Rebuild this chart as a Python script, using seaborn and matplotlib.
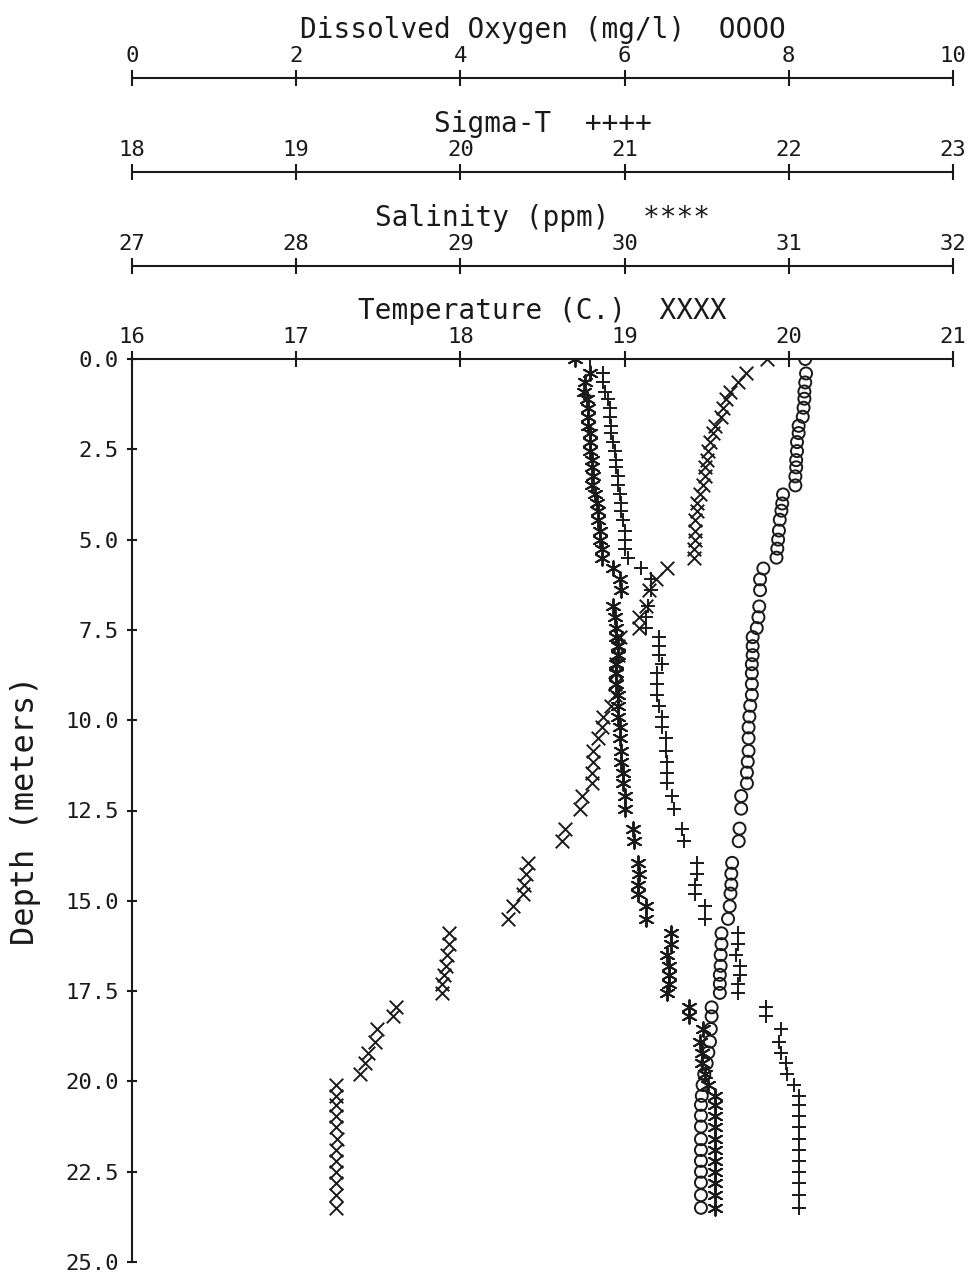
import matplotlib
matplotlib.use("Agg")
import matplotlib.pyplot as plt
import seaborn as sns
import pandas as pd

# ---------------- data ----------------
depth = [0.0, 0.4, 0.65, 0.9, 1.1, 1.35, 1.6, 1.85, 2.05, 2.3,
         2.55, 2.8, 3.0, 3.25, 3.5, 3.75, 4.0, 4.2, 4.45, 4.75,
         5.0, 5.25, 5.5, 5.8, 6.1, 6.4, 6.85, 7.15, 7.45, 7.7,
         7.95, 8.2, 8.45, 8.7, 9.0, 9.3, 9.6, 9.9, 10.2, 10.5,
         10.85, 11.15, 11.45, 11.75, 12.1, 12.45, 13.0, 13.35, 13.95, 14.25,
         14.55, 14.8, 15.15, 15.5, 15.9, 16.2, 16.5, 16.8, 17.05, 17.3,
         17.55, 17.95, 18.2, 18.55, 18.9, 19.2, 19.5, 19.8, 20.1, 20.4,
         20.65, 20.95, 21.25, 21.6, 21.9, 22.2, 22.5, 22.8, 23.15, 23.5]

temperature = [19.87, 19.74, 19.69, 19.64, 19.62, 19.60, 19.59, 19.55, 19.54, 19.52,
               19.51, 19.50, 19.49, 19.49, 19.48, 19.46, 19.44, 19.44, 19.43, 19.43,
               19.43, 19.42, 19.42, 19.26, 19.19, 19.15, 19.13, 19.09, 19.09, 18.97,
               18.96, 18.96, 18.95, 18.95, 18.94, 18.94, 18.92, 18.87, 18.86, 18.84,
               18.81, 18.81, 18.80, 18.80, 18.74, 18.73, 18.64, 18.62, 18.41, 18.40,
               18.39, 18.38, 18.32, 18.29, 17.93, 17.93, 17.92, 17.91, 17.90, 17.89,
               17.89, 17.61, 17.59, 17.49, 17.48, 17.44, 17.42, 17.39, 17.24, 17.24,
               17.24, 17.24, 17.24, 17.25, 17.24, 17.24, 17.24, 17.24, 17.24, 17.24]

salinity = [29.70, 29.79, 29.76, 29.75, 29.77, 29.78, 29.78, 29.78, 29.79, 29.79,
            29.79, 29.80, 29.80, 29.81, 29.80, 29.82, 29.83, 29.84, 29.84, 29.85,
            29.85, 29.86, 29.86, 29.93, 29.97, 29.98, 29.93, 29.94, 29.95, 29.95,
            29.96, 29.96, 29.95, 29.95, 29.95, 29.96, 29.96, 29.96, 29.97, 29.97,
            29.98, 29.98, 29.99, 29.99, 30.00, 30.00, 30.05, 30.06, 30.08, 30.09,
            30.08, 30.08, 30.13, 30.13, 30.28, 30.28, 30.26, 30.27, 30.27, 30.27,
            30.26, 30.39, 30.39, 30.48, 30.46, 30.47, 30.47, 30.49, 30.51, 30.55,
            30.55, 30.55, 30.55, 30.55, 30.55, 30.55, 30.55, 30.55, 30.55, 30.55]

sigma_t = [20.79, 20.87, 20.87, 20.88, 20.90, 20.91, 20.91, 20.92, 20.92, 20.93,
           20.94, 20.95, 20.95, 20.96, 20.96, 20.97, 20.98, 20.98, 20.99, 21.00,
           21.00, 21.00, 21.02, 21.10, 21.16, 21.16, 21.14, 21.13, 21.13, 21.21,
           21.21, 21.21, 21.23, 21.20, 21.20, 21.20, 21.21, 21.23, 21.23, 21.25,
           21.25, 21.26, 21.26, 21.26, 21.29, 21.30, 21.35, 21.36, 21.44, 21.44,
           21.43, 21.43, 21.49, 21.49, 21.69, 21.69, 21.68, 21.70, 21.70, 21.69,
           21.69, 21.86, 21.86, 21.95, 21.94, 21.95, 21.98, 21.99, 22.03, 22.06,
           22.06, 22.06, 22.06, 22.06, 22.06, 22.06, 22.06, 22.06, 22.06, 22.06]

oxygen = [8.20, 8.21, 8.20, 8.19, 8.19, 8.18, 8.17, 8.12, 8.12, 8.10,
          8.10, 8.09, 8.09, 8.08, 8.08, 7.93, 7.92, 7.91, 7.89, 7.88,
          7.87, 7.86, 7.85, 7.69, 7.65, 7.65, 7.64, 7.63, 7.61, 7.56,
          7.56, 7.56, 7.55, 7.55, 7.55, 7.55, 7.53, 7.52, 7.51, 7.51,
          7.51, 7.50, 7.49, 7.49, 7.42, 7.42, 7.40, 7.39, 7.31, 7.30,
          7.30, 7.29, 7.28, 7.26, 7.18, 7.18, 7.17, 7.17, 7.16, 7.16,
          7.16, 7.06, 7.06, 7.05, 7.04, 7.02, 7.00, 6.97, 6.95, 6.94,
          6.93, 6.93, 6.93, 6.93, 6.93, 6.93, 6.93, 6.93, 6.93, 6.93]

temp_ticks = [16, 17, 18, 19, 20, 21]
sal_ticks = [27, 28, 29, 30, 31, 32]
sig_ticks = [18, 19, 20, 21, 22, 23]
do_ticks = [0, 2, 4, 6, 8, 10]
depth_ticks = [0.0, 2.5, 5.0, 7.5, 10.0, 12.5, 15.0, 17.5, 20.0, 22.5, 25.0]

temp_title = "Temperature (C.)  XXXX"
sal_title = "Salinity (ppm)  ****"
sig_title = "Sigma-T  ++++"
do_title = "Dissolved Oxygen (mg/l)  OOOO"
depth_title = "Depth (meters)"

df = pd.DataFrame({"depth": depth, "temperature": temperature,
                   "salinity": salinity, "sigma_t": sigma_t, "oxygen": oxygen})

# ---------------- style ----------------
sns.set_theme(style="white")
plt.rcParams["font.family"] = ["DejaVu Sans Mono", "DejaVu Sans"]
plt.rcParams["axes.linewidth"] = 1.5

W, H = 970, 1276
fig = plt.figure(figsize=(W / 100, H / 100), dpi=100)
left, right, top, bottom = 132, 953, 359, 1262
ax = fig.add_axes([left / W, 1 - bottom / H, (right - left) / W, (bottom - top) / H])

ink = "#1a1a1a"
TICK_FS = 16
TITLE_FS = 20

def style_top_axis(a, lim, ticks, title, pos):
    a.set_xlim(*lim)
    a.set_xticks(ticks)
    a.set_xticklabels([str(t) for t in ticks])
    a.xaxis.set_ticks_position("top")
    a.xaxis.set_label_position("top")
    a.tick_params(axis="x", direction="inout", length=11.5, width=1.5,
                  labelsize=TICK_FS, pad=2.7, colors=ink, top=True, bottom=False,
                  labeltop=True, labelbottom=False)
    a.set_xlabel(title, fontsize=TITLE_FS, labelpad=5.8, color=ink)
    for s in ["left", "right", "bottom"]:
        a.spines[s].set_visible(False)
    a.spines["top"].set_visible(True)
    a.spines["top"].set_color(ink)
    a.spines["top"].set_linewidth(1.5)
    if pos is not None:
        a.spines["top"].set_position(("axes", pos))

# main axis: temperature vs depth
sns.scatterplot(data=df, x="temperature", y="depth", ax=ax, marker="x",
                s=95, color=ink, linewidth=1.4, zorder=3)

# salinity
ax_s = ax.twiny()
sns.scatterplot(data=df, x="salinity", y="depth", ax=ax_s, marker=(6, 2, 0),
                s=110, color=ink, linewidth=1.4, zorder=3)

# sigma-t
ax_g = ax.twiny()
sns.scatterplot(data=df, x="sigma_t", y="depth", ax=ax_g, marker="+",
                s=110, color=ink, linewidth=1.4, zorder=3)

# dissolved oxygen
ax_o = ax.twiny()
sns.scatterplot(data=df, x="oxygen", y="depth", ax=ax_o, marker="o",
                s=75, facecolors="none", edgecolor=ink, linewidth=1.4, zorder=3)

# style all axes after twins exist (twiny moves the host ticks)
ax.set_ylim(25, 0)
ax.set_yticks(depth_ticks)
ax.set_yticklabels([f"{d:.1f}" for d in depth_ticks])
ax.tick_params(axis="y", direction="inout", length=7.5, width=1.5,
               labelsize=TICK_FS, pad=6, colors=ink, left=True)
ax.set_ylabel(depth_title, fontsize=23, labelpad=17, color=ink)
ax.grid(False)
style_top_axis(ax, (16, 21), temp_ticks, temp_title, None)
ax.spines["left"].set_visible(True)
ax.spines["left"].set_color(ink)
ax.spines["left"].set_linewidth(1.5)

style_top_axis(ax_s, (27, 32), sal_ticks, sal_title, 1 + 93 / 903)
style_top_axis(ax_g, (18, 23), sig_ticks, sig_title, 1 + 187 / 903)
style_top_axis(ax_o, (0, 10), do_ticks, do_title, 1 + 281 / 903)

for a in (ax_s, ax_g, ax_o):
    a.set_ylim(25, 0)
    a.set_ylabel("")
    a.grid(False)
    a.tick_params(axis="y", left=False, right=False, labelleft=False, labelright=False)

fig.savefig("out.png", dpi=100, facecolor="white")
